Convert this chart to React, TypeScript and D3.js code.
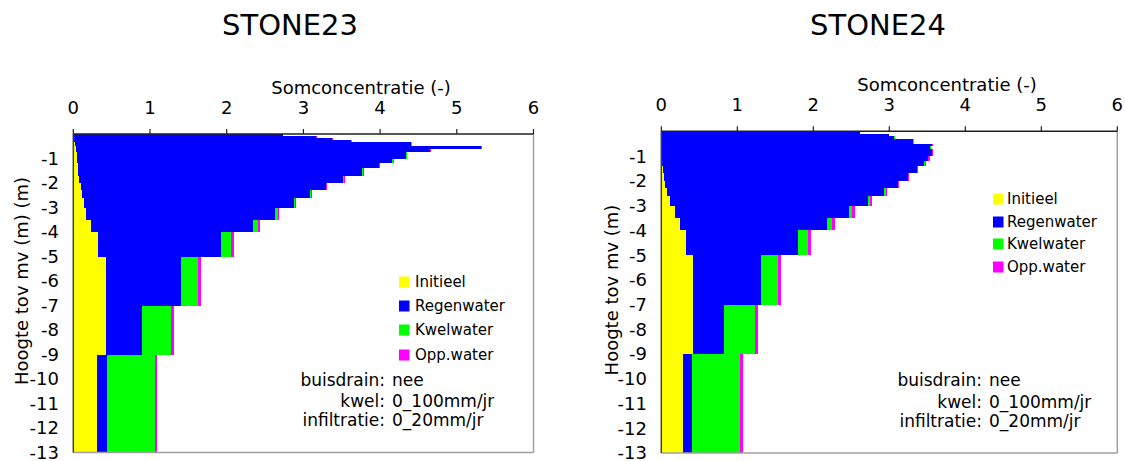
import React from "react";
import * as d3 from "d3";

// ---------- data ----------
const seriesKeys = ["Initieel", "Regenwater", "Kwelwater", "Opp.water"];
const seriesColors = ["#ffff00", "#0000ff", "#00ff00", "#ff00ff"];
const xTicks = [0, 1, 2, 3, 4, 5, 6];
const yTicks = [-1, -2, -3, -4, -5, -6, -7, -8, -9, -10, -11, -12, -13];

// STONE23: layer boundaries (m below surface) and composition per layer
const stone23Depth = [0, 0.1, 0.18, 0.24, 0.32, 0.5, 0.6, 0.75, 1.0, 1.2, 1.4, 1.7, 2.0, 2.3, 2.6, 3.0, 3.5, 4.0, 5.0, 7.0, 9.0, 13.0];
const stone23Initieel = [0.01, 0.01, 0.01, 0.01, 0.02, 0.04, 0.04, 0.045, 0.05, 0.057, 0.065, 0.08, 0.096, 0.11, 0.14, 0.17, 0.23, 0.32, 0.42, 0.42, 0.305];
const stone23Regenwater = [2.72, 3.15, 3.36, 3.615, 4.385, 5.27, 4.605, 4.295, 4.107, 3.923, 3.701, 3.438, 3.196, 2.982, 2.738, 2.46, 2.117, 1.606, 0.984, 0.476, 0.13];
const stone23Kwelwater = [0.004, 0.008, 0.006, 0.008, 0.005, 0.01, 0.01, 0.005, 0.005, 0.005, 0.005, 0.005, 0.005, 0.005, 0.013, 0.035, 0.057, 0.13, 0.216, 0.378, 0.625];
const stone23Oppwater = [0.004, 0.005, 0.006, 0.005, 0.01, 0.005, 0.005, 0.01, 0.015, 0.015, 0.015, 0.015, 0.015, 0.015, 0.013, 0.021, 0.03, 0.034, 0.04, 0.039, 0.03];

// STONE24
const stone24Depth = [0, 0.1, 0.2, 0.3, 0.5, 0.6, 0.7, 1.0, 1.2, 1.4, 1.7, 2.0, 2.3, 2.6, 3.0, 3.5, 4.0, 5.0, 7.0, 9.0, 13.0];
const stone24Initieel = [0, 0, 0, 0, 0, 0, 0, 0, 0.005, 0.018, 0.03, 0.05, 0.08, 0.12, 0.18, 0.25, 0.33, 0.42, 0.42, 0.29];
const stone24Regenwater = [2.61, 2.99, 3.06, 3.31, 3.56, 3.54, 3.56, 3.51, 3.455, 3.342, 3.21, 3.06, 2.85, 2.595, 2.29, 1.93, 1.47, 0.89, 0.405, 0.11];
const stone24Kwelwater = [0.005, 0.005, 0.01, 0.015, 0.005, 0.005, 0.005, 0.005, 0.005, 0.005, 0.005, 0.005, 0.025, 0.03, 0.04, 0.07, 0.13, 0.23, 0.405, 0.635];
const stone24Oppwater = [0.005, 0.005, 0.005, 0.005, 0.005, 0.005, 0.015, 0.015, 0.015, 0.015, 0.015, 0.015, 0.015, 0.025, 0.04, 0.035, 0.04, 0.035, 0.04, 0.035];

const infoLabels = ["buisdrain:", "kwel:", "infiltratie:"];
const infoValues = ["nee", "0_100mm/jr", "0_20mm/jr"];

// ---------- layout ----------
const FONT = "DejaVu Sans, Verdana, sans-serif";

const panels = [
  {
    title: "STONE23",
    yLabel: "Hoogte tov mv (m) (m)",
    depth: stone23Depth,
    series: [stone23Initieel, stone23Regenwater, stone23Kwelwater, stone23Oppwater],
    left: 73.3, right: 533.5, top: 134, bottom: 452.5,
    titleX: 290, titleY: 35,
    axisTitleX: 361, axisTitleY: 94,
    tickLabelY: 114,
    yTickX: 59,
    yLabelX: 28, yLabelY: 281,
    legendX: 399, legendY: [282, 306, 330, 355], legendText: 415,
    infoColon: 385, infoValue: 392, infoY: [386, 407, 426],
  },
  {
    title: "STONE24",
    yLabel: "Hoogte tov mv (m)",
    depth: stone24Depth,
    series: [stone24Initieel, stone24Regenwater, stone24Kwelwater, stone24Oppwater],
    left: 661.3, right: 1117.3, top: 131.3, bottom: 453,
    titleX: 878, titleY: 35,
    axisTitleX: 947, axisTitleY: 91,
    tickLabelY: 111,
    yTickX: 647,
    yLabelX: 618, yLabelY: 290,
    legendX: 993, legendY: [199, 222, 244, 267], legendText: 1007,
    infoColon: 982, infoValue: 989, infoY: [386, 408, 427],
  },
];

function Panel({ p }: { p: (typeof panels)[number] }) {
  const x = d3.scaleLinear().domain([0, 6]).range([p.left, p.right]);
  const y = d3.scaleLinear().domain([0, -13]).range([p.top, p.bottom]);
  const rows = p.depth.slice(0, -1).map((d, i) => {
    const o: any = { top: -d, bottom: -p.depth[i + 1] };
    seriesKeys.forEach((k, j) => (o[k] = p.series[j][i]));
    return o;
  });
  const stacked = d3.stack<any>().keys(seriesKeys)(rows);

  return (
    <g>
      <text x={p.titleX} y={p.titleY} textAnchor="middle" fontSize={29} fontFamily={FONT} fill="#000">
        {p.title}
      </text>
      {/* bars */}
      {stacked.map((layer, j) => (
        <g key={seriesKeys[j]} fill={seriesColors[j]}>
          {layer.map((seg, i) => {
            const r = rows[i];
            const x0 = x(seg[0]);
            const x1 = x(seg[1]);
            const y0 = y(r.top);
            const y1 = y(r.bottom);
            return <rect key={i} x={x0} y={y0} width={Math.max(0, x1 - x0)} height={y1 - y0} shapeRendering="crispEdges" />;
          })}
        </g>
      ))}
      {/* frame */}
      <line x1={p.right} x2={p.right} y1={p.top} y2={p.bottom} stroke="#a0a0a0" strokeWidth={1.5} />
      <line x1={p.left} x2={p.right} y1={p.bottom} y2={p.bottom} stroke="#a0a0a0" strokeWidth={1.5} />
      <line x1={p.left} x2={p.right} y1={p.top} y2={p.top} stroke="#202020" strokeWidth={1.5} />
      <line x1={p.left} x2={p.left} y1={p.top} y2={p.bottom} stroke="#404040" strokeWidth={1.5} />
      {/* x axis (top) */}
      {xTicks.map((t) => (
        <g key={t}>
          <line x1={x(t)} x2={x(t)} y1={p.top - 5} y2={p.top} stroke="#202020" strokeWidth={1.2} />
          <text x={x(t)} y={p.tickLabelY} textAnchor="middle" fontSize={18} fontFamily={FONT} fill="#000">
            {t}
          </text>
        </g>
      ))}
      <text x={p.axisTitleX} y={p.axisTitleY} textAnchor="middle" fontSize={18} fontFamily={FONT} fill="#000">
        Somconcentratie (-)
      </text>
      {/* y axis */}
      {yTicks.map((t) => (
        <text key={t} x={p.yTickX} y={y(t)} dy="0.36em" textAnchor="end" fontSize={18} fontFamily={FONT} fill="#000">
          {t}
        </text>
      ))}
      <text
        transform={`translate(${p.yLabelX},${p.yLabelY}) rotate(-90)`}
        textAnchor="middle"
        fontSize={18}
        fontFamily={FONT}
        fill="#000"
      >
        {p.yLabel}
      </text>
      {/* legend */}
      {seriesKeys.map((k, j) => (
        <g key={k}>
          <rect x={p.legendX} y={p.legendY[j] - 5.5} width={10.5} height={11} fill={seriesColors[j]} />
          <text x={p.legendText} y={p.legendY[j]} dy="0.36em" fontSize={15} fontFamily={FONT} fill="#000">
            {k}
          </text>
        </g>
      ))}
      {/* info */}
      {infoLabels.map((l, i) => (
        <g key={l}>
          <text x={p.infoColon} y={p.infoY[i]} textAnchor="end" fontSize={17} fontFamily={FONT} fill="#000">
            {l}
          </text>
          <text x={p.infoValue} y={p.infoY[i]} fontSize={17} fontFamily={FONT} fill="#000">
            {infoValues[i]}
          </text>
        </g>
      ))}
    </g>
  );
}

export default function App() {
  return (
    <svg
      width={1125}
      height={461}
      viewBox="0 0 1125 461"
      style={{ position: "absolute", left: 0, top: 0, background: "#fff" }}
    >
      <rect width={1125} height={461} fill="#fff" />
      {panels.map((p) => (
        <Panel key={p.title} p={p} />
      ))}
    </svg>
  );
}
